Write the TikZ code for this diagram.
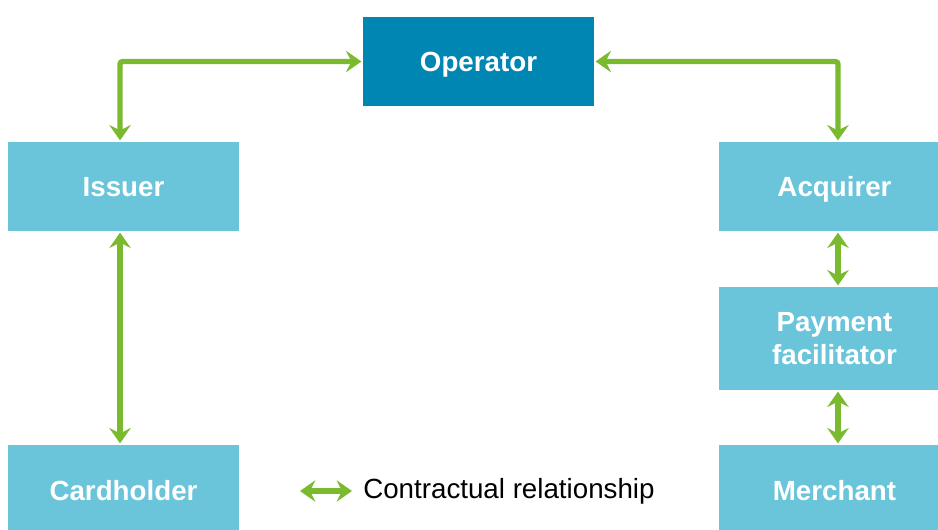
\documentclass[tikz,border=0pt]{standalone}
\usepackage{fontspec}
\setmainfont{Liberation Sans}
\usetikzlibrary{arrows.meta}

\definecolor{opblue}{RGB}{0,134,179}
\definecolor{boxblue}{RGB}{106,197,219}
\definecolor{linkgreen}{RGB}{122,186,46}

\tikzset{
  party/.style={fill=boxblue, text=white, font=\fontsize{20.8}{24.75}\selectfont\bfseries,
    minimum width=173.25pt, minimum height=66.75pt, inner sep=0pt, align=center,
    text height=15pt, text depth=0pt},
  link/.style={draw=linkgreen, line width=4pt,
    {Stealth[length=11.5pt,width=16pt,inset=4pt]}-{Stealth[length=11.5pt,width=16pt,inset=4pt]},
    shorten <=1pt, shorten >=1pt}
}

\begin{document}
\begin{tikzpicture}[x=0.75pt,y=0.75pt,yscale=-1,xscale=1]
\useasboundingbox (0,0) rectangle (938,529);

% Boxes
\node[party, fill=opblue] (operator) at (478.5,61.5) {Operator};
\node[party] (issuer) at (123.5,186.5) {Issuer};
\node[party] (acquirer) at (834.5,186.5) {Acquirer};
\node[party, minimum height=77.25pt, text height=, text depth=] (payfac) at (834.5,338.5) {Payment\\facilitator};
\node[party, minimum height=67.5pt] (cardholder) at (123.5,490) {Cardholder};
\node[party, minimum height=67.5pt] (merchant) at (834.5,490) {Merchant};

% Contract lines
\draw[link, rounded corners=2pt] ([xshift=-2.6pt]issuer.north) |- (operator.west);
\draw[link, rounded corners=2pt] (operator.east) -| ([xshift=2.6pt]acquirer.north);
\draw[link] ([xshift=-2.6pt]issuer.south) -- ([xshift=-2.6pt]cardholder.north);
\draw[link] ([xshift=2.6pt]acquirer.south) -- ([xshift=2.6pt]payfac.north);
\draw[link] ([xshift=2.6pt]payfac.south) -- ([xshift=2.6pt]merchant.north);

% Legend
\coordinate (keyA) at (300,491);
\coordinate (keyB) at (352,491);
\draw[link, shorten <=0pt, shorten >=0pt] (keyA) -- (keyB);
\node[anchor=west, inner sep=0pt, font=\fontsize{20.8}{24}\selectfont] (keytext) at (363,491) {Contractual relationship};

\end{tikzpicture}
\end{document}
